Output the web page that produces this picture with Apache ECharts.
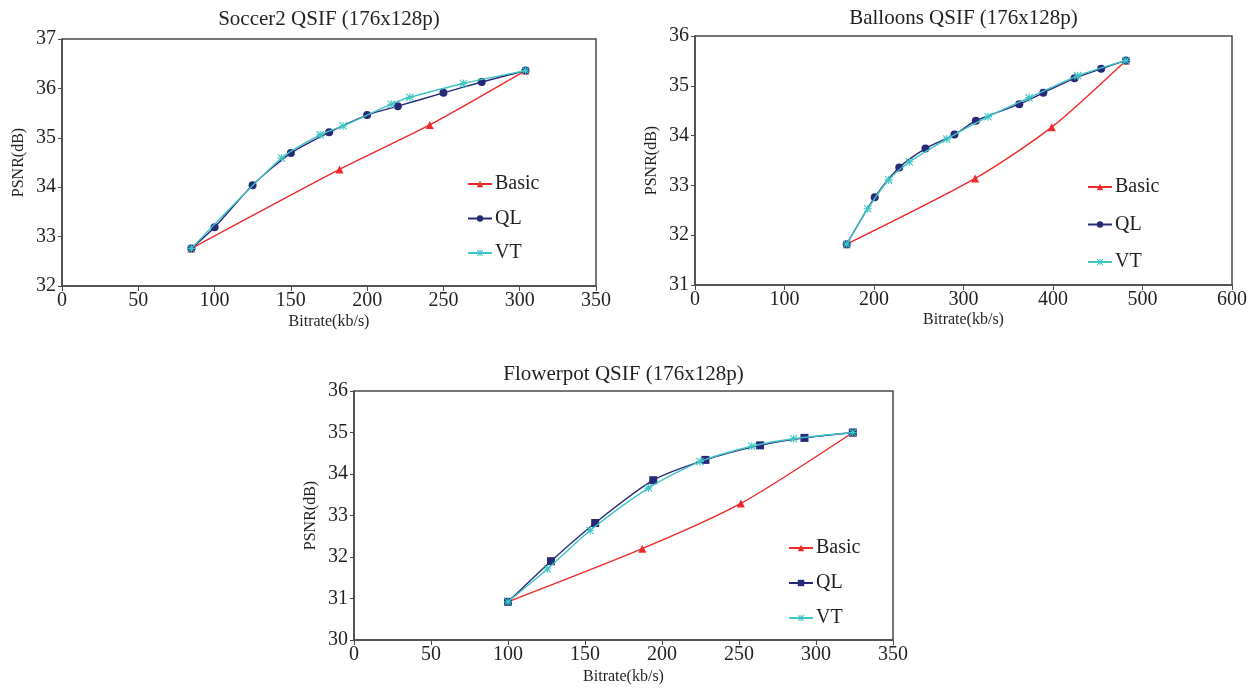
<!DOCTYPE html>
<html>
<head>
<meta charset="utf-8">
<script src="https://cdn.jsdelivr.net/npm/echarts@6/dist/echarts.min.js"></script>
<style>html,body{margin:0;padding:0;background:#fff}#c{width:1255px;height:693px}</style>
</head>
<body>
<div id="c"></div>
<script>
// ---------- data ----------
const titles = ['Soccer2 QSIF (176x128p)', 'Balloons QSIF (176x128p)', 'Flowerpot QSIF (176x128p)'];
const seriesNames = ['Basic', 'QL', 'VT'];
const xAxisName = 'Bitrate(kb/s)';
const yAxisName = 'PSNR(dB)';

// Soccer2
const soccerBasicX = [84.8, 181.9, 241.0, 303.8];
const soccerBasicY = [32.76, 34.36, 35.26, 36.36];
const soccerQLX = [84.8, 100.0, 124.9, 150.0, 175.1, 200.0, 220.1, 250.0, 275.1, 303.8];
const soccerQLY = [32.76, 33.19, 34.04, 34.69, 35.11, 35.46, 35.64, 35.91, 36.13, 36.36];
const soccerVTX = [84.8, 143.9, 169.2, 184.2, 215.8, 228.0, 263.1, 303.8];
const soccerVTY = [32.76, 34.59, 35.06, 35.24, 35.68, 35.82, 36.10, 36.36];

// Balloons
const balloonsBasicX = [169.5, 313.0, 398.6, 481.5];
const balloonsBasicY = [31.82, 33.14, 34.17, 35.51];
const balloonsQLX = [169.5, 200.8, 228.2, 257.5, 289.9, 313.8, 362.3, 389.2, 424.0, 453.8, 481.5];
const balloonsQLY = [31.82, 32.76, 33.36, 33.74, 34.02, 34.30, 34.63, 34.86, 35.15, 35.34, 35.51];
const balloonsVTX = [169.5, 193.0, 216.4, 239.5, 281.3, 327.5, 373.3, 427.6, 481.5];
const balloonsVTY = [31.82, 32.53, 33.11, 33.47, 33.93, 34.38, 34.76, 35.20, 35.51];

// Flowerpot
const flowerBasicX = [100.0, 187.2, 251.2, 323.9];
const flowerBasicY = [30.92, 32.20, 33.29, 35.00];
const flowerQLX = [100.0, 127.9, 156.6, 194.3, 228.2, 263.7, 292.5, 323.9];
const flowerQLY = [30.92, 31.90, 32.82, 33.85, 34.34, 34.69, 34.87, 35.00];
const flowerVTX = [100.0, 125.6, 153.3, 191.2, 224.7, 258.3, 285.5, 323.9];
const flowerVTY = [30.92, 31.71, 32.64, 33.66, 34.30, 34.67, 34.85, 35.00];

// axis ranges / ticks
const xMins = [0, 0, 0], xMaxs = [350, 600, 350], xSteps = [50, 100, 50];
const yMins = [32, 31, 30], yMaxs = [37, 36, 36], ySteps = [1, 1, 1];

// ---------- build ----------
const zip = (xs, ys) => xs.map((x, i) => [x, ys[i]]);
const chartData = [
  [zip(soccerBasicX, soccerBasicY), zip(soccerQLX, soccerQLY), zip(soccerVTX, soccerVTY)],
  [zip(balloonsBasicX, balloonsBasicY), zip(balloonsQLX, balloonsQLY), zip(balloonsVTX, balloonsVTY)],
  [zip(flowerBasicX, flowerBasicY), zip(flowerQLX, flowerQLY), zip(flowerVTX, flowerVTY)]
];

const FONT = '"Liberation Serif", "DejaVu Serif", serif';
const TXT = '#231f20';
const AX = '#4a4a4a';
const colors = ['#ee2a2a', '#252a78', '#3ec3c6'];
const asterisk = 'path://M0,4.3L10,4.3L10,5.7L0,5.7Z M4.3,0L5.7,0L5.7,10L4.3,10Z M1,0L10,9L9,10L0,1Z M9,0L10,1L1,10L0,9Z';
const qlSymbols = ['circle', 'circle', 'rect'];

const grids = [
  {left: 62, top: 39, width: 534, height: 247},
  {left: 695, top: 36, width: 537, height: 249},
  {left: 354, top: 391, width: 539, height: 249}
];
const legendPos = [
  {left: 467, top: 174, gap: 14.5},
  {left: 1087, top: 177, gap: 17.5},
  {left: 788, top: 538, gap: 15}
];
const titleTops = [9, 8, 364];
const xNameGaps = [28, 27, 29];

const option = {
  backgroundColor: '#fff',
  animation: false,
  title: grids.map((g, i) => ({
    text: titles[i],
    left: g.left + g.width / 2,
    textAlign: 'center',
    top: titleTops[i],
    padding: 0,
    textStyle: {fontFamily: FONT, fontSize: 21, fontWeight: 'normal', color: TXT}
  })),
  grid: grids.map(g => Object.assign({show: true, borderColor: AX, borderWidth: 1.5, backgroundColor: 'transparent'}, g)),
  xAxis: grids.map((g, i) => ({
    type: 'value', gridIndex: i, min: xMins[i], max: xMaxs[i], interval: xSteps[i],
    name: xAxisName, nameLocation: 'middle', nameGap: xNameGaps[i],
    nameTextStyle: {fontFamily: FONT, fontSize: 16, color: TXT},
    axisLine: {show: true, lineStyle: {color: AX, width: 1.5}},
    axisTick: {show: true, length: 5, lineStyle: {color: AX}},
    axisLabel: {fontFamily: FONT, fontSize: 20, color: TXT, margin: 5},
    splitLine: {show: false}
  })),
  yAxis: grids.map((g, i) => ({
    type: 'value', gridIndex: i, min: yMins[i], max: yMaxs[i], interval: ySteps[i],
    name: yAxisName, nameLocation: 'middle', nameGap: 35,
    nameTextStyle: {fontFamily: FONT, fontSize: 16, color: TXT},
    axisLine: {show: true, lineStyle: {color: AX, width: 1.5}},
    axisTick: {show: true, length: 4, lineStyle: {color: AX}},
    axisLabel: {fontFamily: FONT, fontSize: 20, color: TXT, margin: 6},
    splitLine: {show: false}
  })),
  legend: grids.map((g, i) => ({
    data: seriesNames.map(n => n + '#' + i),
    formatter: n => n.split('#')[0],
    orient: 'vertical',
    left: legendPos[i].left, top: legendPos[i].top,
    itemWidth: 24, itemHeight: 8, itemGap: legendPos[i].gap,
    padding: 0,
    textStyle: {fontFamily: FONT, fontSize: 20, color: TXT, padding: [0, 0, 0, -2]}
  })),
  series: []
};

chartData.forEach((sets, i) => {
  sets.forEach((d, k) => {
    const sym = k === 0 ? 'triangle' : (k === 1 ? qlSymbols[i] : asterisk);
    option.series.push({
      name: seriesNames[k] + '#' + i,
      type: 'line',
      xAxisIndex: i, yAxisIndex: i,
      data: d,
      smooth: 0.25,
      symbol: sym,
      symbolSize: 8,
      showAllSymbol: true,
      z: k === 1 ? 3 : (k === 2 ? 4 : 2),
      lineStyle: {color: colors[k], width: 1.4},
      itemStyle: {color: colors[k], borderWidth: 0}
    });
  });
});

const chart = echarts.init(document.getElementById('c'), null, {renderer: 'canvas'});
chart.setOption(option);
</script>
</body>
</html>
